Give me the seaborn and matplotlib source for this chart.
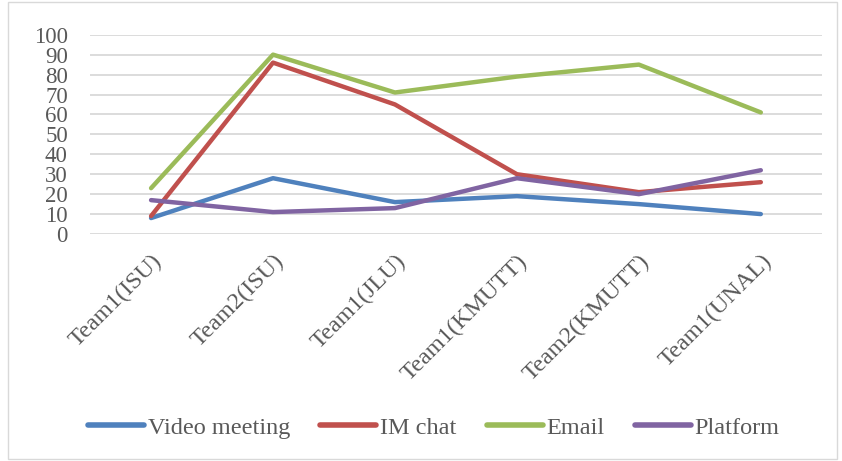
import matplotlib.pyplot as plt
import matplotlib.patches as patches
import pandas as pd
import seaborn as sns

teams = ['Team1(ISU)', 'Team2(ISU)', 'Team1(JLU)', 'Team1(KMUTT)', 'Team2(KMUTT)', 'Team1(UNAL)']
video_meeting = [8, 28, 16, 19, 15, 10]
im_chat = [9, 86, 65, 30, 21, 26]
email = [23, 90, 71, 79, 85, 61]
platform = [17, 11, 13, 28, 20, 32]

series = {'Video meeting': video_meeting, 'IM chat': im_chat, 'Email': email, 'Platform': platform}
colors = ['#4F81BD', '#C0504D', '#9BBB59', '#8064A2']

rows = []
for name, vals in series.items():
    for t, v in zip(teams, vals):
        rows.append({'team': t, 'value': v, 'series': name})
df = pd.DataFrame(rows)

sns.set_style('white')
plt.rcParams['font.family'] = ['Liberation Serif', 'DejaVu Serif']

fig = plt.figure(figsize=(8.42, 4.61), dpi=100)
ax = fig.add_axes([0.107, 0.4924, 0.869, 0.4323])

sns.lineplot(data=df, x='team', y='value', hue='series', palette=colors,
             linewidth=3.2, sort=False, ax=ax, legend=False)

ax.set_xlim(-0.5, len(teams) - 0.5)
ax.set_ylim(0, 100)
ax.set_yticks(range(0, 101, 10))
ax.yaxis.grid(True, color='#D9D9D9', linewidth=1.3)
ax.set_axisbelow(True)
for s in ax.spines.values():
    s.set_visible(False)
ax.set_xlabel('')
ax.set_ylabel('')
ax.tick_params(axis='y', labelsize=16.5, colors='#595959', pad=16, length=0)
ax.tick_params(axis='x', labelsize=17.5, colors='#595959', pad=12, length=0)
plt.setp(ax.get_xticklabels(), rotation=45, ha='right', rotation_mode='anchor')

handles = [plt.Line2D([], [], color=c, linewidth=4, solid_capstyle='round') for c in colors]
leg = fig.legend(handles, list(series.keys()), loc='center', bbox_to_anchor=(0.515, 0.072),
                 ncol=4, frameon=False, fontsize=17.5, handlelength=2.3,
                 columnspacing=1.25, handletextpad=0.15)
for t in leg.get_texts():
    t.set_color('#595959')

fig.patches.append(patches.Rectangle((0.009, 0.005), 0.985, 0.99, transform=fig.transFigure,
                                     fill=False, edgecolor='#D9D9D9', linewidth=1))

fig.savefig('out.png', dpi=100)
